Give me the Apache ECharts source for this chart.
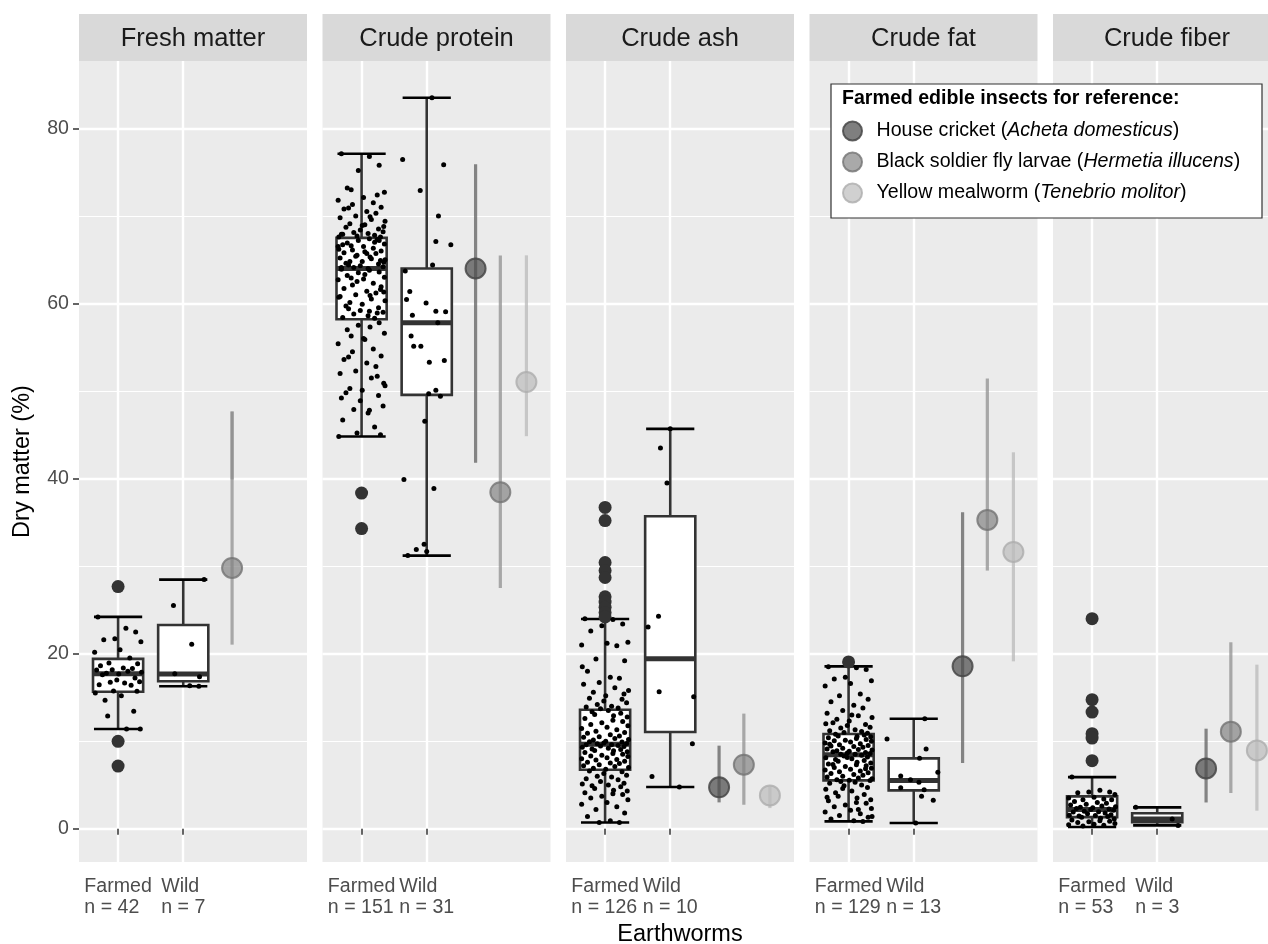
<!DOCTYPE html>
<html>
<head>
<meta charset="utf-8">
<script src="https://cdn.jsdelivr.net/npm/echarts@6/dist/echarts.min.js"></script>
<style>
html,body{margin:0;padding:0;background:#ffffff;}
#chart{width:1268px;height:944px;}
</style>
</head>
<body>
<div id="chart"></div>
<script>
// ---------------- DATA ----------------
const panels = ['Fresh matter', 'Crude protein', 'Crude ash', 'Crude fat', 'Crude fiber'];
const groupNames = ['Farmed', 'Wild'];
const nFarmed = [42, 151, 126, 129, 53];
const nWild = [7, 31, 10, 13, 3];
const yTicks = [0, 20, 40, 60, 80];

// box stats: [lower whisker, Q1, median, Q3, upper whisker]
const boxFarmed = [
  [11.4, 15.65, 17.7, 19.4, 24.2],
  [44.8, 58.2, 64.0, 67.5, 77.1],
  [0.72, 6.74, 9.65, 13.6, 23.96],
  [0.84, 5.52, 8.46, 10.82, 18.55],
  [0.19, 1.33, 2.2, 3.7, 5.9]
];
const boxWild = [
  [16.27, 16.84, 17.68, 23.28, 28.46],
  [31.2, 49.56, 57.8, 64.0, 83.5],
  [4.76, 11.05, 19.43, 35.7, 45.68],
  [0.65, 4.38, 5.52, 8.04, 12.57],
  [0.38, 0.74, 1.1, 1.77, 2.44]
];
const outliersFarmed = [
  [27.66, 9.98, 7.16],
  [38.34, 34.29],
  [36.7, 35.2, 30.4, 29.5, 28.7, 26.5, 25.9, 25.3, 24.7, 24.2],
  [19.05],
  [24.0, 14.74, 13.33, 10.86, 10.36, 7.77]
];

// individual farmed observations (dry matter %)
const freshFarmed = [24.19, 22.9, 22.48, 21.71, 21.6, 21.37, 20.46, 20.15, 19.5, 18.93, 18.86, 18.63, 18.36, 18.29, 18.17, 18.13, 17.98, 17.87, 17.75, 17.68, 17.6, 17.22, 16.99, 16.8, 16.72, 16.65, 16.46, 16.38, 15.73, 15.7, 15.5, 15.2, 14.67, 13.41, 12.88, 11.39, 11.39];
const proteinFarmed = [
  77.1, 76.8, 75.8, 75.2, 73.2, 72.7, 72.1, 71.8, 71.5, 71.3, 71.0, 70.8, 70.5, 70.3, 70.0, 69.8, 69.6, 69.4, 69.1, 68.9, 68.7, 68.5, 68.4, 68.2, 68.1, 68.0, 67.9, 67.8, 67.7, 67.6, 67.6, 69.0, 70.9, 72.4, 73.0, 69.9, 68.8, 67.9,
  67.4, 67.2, 67.2, 66.9, 66.8, 66.5, 66.5, 66.3, 66.1, 66.0, 65.8, 65.7, 65.7, 65.4, 65.2, 65.1, 65.0, 64.8, 64.8, 64.6, 64.5, 64.3, 64.2, 64.1, 64.0, 66.7, 67.0, 65.5, 64.9, 66.2, 65.9, 64.4, 67.3, 66.6, 65.3, 64.7, 64.1,
  63.8, 63.6, 63.5, 63.2, 63.0, 62.8, 62.7, 62.3, 62.1, 61.9, 61.7, 61.4, 61.2, 61.0, 60.8, 60.5, 60.3, 60.1, 59.9, 59.7, 59.5, 59.2, 59.0, 58.8, 58.6, 58.4, 58.3, 62.5, 61.6, 60.7, 63.3, 59.4, 58.9, 62.9, 60.9, 61.3, 63.9, 59.1,
  57.8, 57.5, 57.0, 56.6, 56.0, 55.4, 54.8, 54.5, 54.0, 53.6, 53.2, 52.8, 52.3, 52.0, 51.5, 50.6, 50.3, 50.1, 49.8, 49.5, 48.9, 48.3, 47.9, 47.5, 46.7, 45.9, 45.2, 45.0, 44.8, 55.9, 53.9, 51.7, 56.3, 57.3, 50.9, 49.2, 47.8
];
const ashFarmed = [
  24.0, 23.9, 23.4, 23.2, 22.6, 21.3, 21.2, 21.0, 20.9, 19.4, 19.2, 18.0, 17.3, 17.2, 16.7, 16.5, 16.1, 15.8, 15.6, 15.2, 14.9, 14.8, 14.6, 14.4, 14.2, 14.0, 13.9, 13.8, 13.7, 15.4, 18.5,
  13.5, 13.35, 13.2, 13.05, 12.9, 12.75, 12.6, 12.4, 12.25, 12.1, 11.9, 11.75, 11.6, 11.45, 11.3, 11.15, 11.0, 10.9, 10.75, 10.6, 10.5, 10.45, 10.3, 10.2, 10.15, 10.0, 9.95, 9.9, 9.8, 9.75, 9.7,
  9.6, 9.6, 9.5, 9.45, 9.4, 9.3, 9.2, 9.1, 9.05, 8.95, 8.9, 8.8, 8.7, 8.6, 8.5, 8.4, 8.3, 8.25, 8.1, 8.0, 7.9, 7.85, 7.7, 7.6, 7.5, 7.45, 7.3, 7.2, 7.1, 7.0, 6.9, 6.8,
  6.6, 6.5, 6.3, 6.1, 6.0, 5.9, 5.7, 5.6, 5.4, 5.2, 5.1, 5.0, 4.9, 4.8, 4.6, 4.4, 4.3, 4.1, 4.0, 3.9, 3.7, 3.5, 3.3, 3.0, 2.8, 2.5, 2.2, 1.8, 1.4, 0.9, 0.7, 0.7
];
const fatFarmed = [
  18.5, 18.4, 18.2, 17.3, 17.1, 16.9, 16.6, 16.3, 15.4, 15.2, 14.8, 14.5, 14.1, 13.8, 13.5, 13.2, 12.9, 12.7, 12.5, 12.3, 12.1, 11.9, 11.8, 11.6, 11.5, 11.3, 11.2, 11.1, 11.0, 10.9, 12.0, 13.0,
  10.8, 10.7, 10.6, 10.55, 10.5, 10.4, 10.3, 10.2, 10.1, 10.05, 10.0, 9.9, 9.8, 9.7, 9.6, 9.5, 9.45, 9.4, 9.3, 9.2, 9.1, 9.05, 9.0, 8.9, 8.85, 8.8, 8.7, 8.65, 8.6, 8.5, 8.5, 9.65,
  8.4, 8.3, 8.2, 8.1, 8.0, 7.9, 7.8, 7.7, 7.6, 7.5, 7.4, 7.3, 7.2, 7.1, 7.0, 6.9, 6.8, 6.7, 6.6, 6.5, 6.4, 6.3, 6.2, 6.1, 6.0, 5.9, 5.8, 5.7, 5.6, 5.55, 7.35, 6.85, 8.15,
  5.5, 5.4, 5.3, 5.2, 5.0, 4.9, 4.7, 4.5, 4.3, 4.1, 3.9, 3.7, 3.5, 3.3, 3.2, 3.0, 2.9, 2.7, 2.5, 2.3, 2.1, 1.9, 1.7, 1.5, 1.3, 1.1, 0.9, 0.84, 4.6, 3.6, 2.2, 1.4
];
const fiberFarmed = [5.9, 4.4, 4.2, 4.2, 4.1, 3.9, 3.6, 3.5, 3.4, 3.3, 3.3, 3.1, 3.0, 2.9, 2.8, 2.7, 2.6, 2.5, 2.45, 2.4, 2.3, 2.25, 2.2, 2.1, 2.0, 1.95, 1.9, 1.8, 1.7, 1.6, 1.55, 1.5, 1.45, 1.4, 1.3, 1.2, 1.1, 1.0, 0.9, 0.85, 0.8, 0.7, 0.6, 0.5, 0.45, 0.4, 0.3];

// wild observations: [horizontal jitter (x units), value]
const freshWild = [[-0.15, 25.49], [0.13, 21.07], [-0.13, 17.71], [0.25, 17.37], [0.10, 16.34], [0.24, 16.27], [0.32, 28.46]];
const proteinWild = [[0.08, 83.5], [-0.37, 76.46], [0.26, 75.85], [-0.10, 72.9], [0.18, 70.0], [0.14, 67.09], [0.37, 66.7], [0.09, 64.4], [-0.33, 63.7], [-0.26, 61.37], [-0.31, 60.46], [-0.01, 60.07], [-0.22, 58.67], [0.14, 59.1], [0.29, 59.05], [0.17, 57.79], [-0.24, 56.3], [-0.20, 55.12], [-0.09, 55.12], [0.04, 53.3], [0.27, 53.49], [0.03, 49.7], [0.14, 50.1], [0.21, 49.4], [-0.03, 46.55], [-0.35, 39.9], [0.11, 38.86], [-0.04, 32.5], [-0.16, 31.9], [0.0, 31.66], [-0.29, 31.2]];
const ashWild = [[0.0, 45.68], [-0.15, 43.5], [-0.05, 39.5], [-0.18, 24.27], [-0.34, 23.05], [-0.17, 15.66], [0.36, 15.09], [0.34, 9.72], [-0.28, 5.98], [0.14, 4.76]];
const fatWild = [[0.17, 12.57], [-0.41, 10.25], [0.19, 9.1], [0.09, 8.04], [0.37, 6.44], [-0.20, 6.02], [0.08, 5.3], [0.16, 4.46], [-0.20, 4.69], [0.12, 3.7], [0.30, 3.24], [0.03, 0.65], [-0.05, 5.6]];
const fiberWild = [[-0.33, 2.44], [0.23, 1.1], [0.32, 0.38]];

// horizontal jitter offsets (x units) used for the farmed observations
const jitter = [-0.31, 0.12, 0.27, -0.05, -0.22, 0.35, 0.03, -0.36, 0.18, -0.14, 0.30, -0.27, 0.08, 0.22, -0.09, -0.33, 0.15, 0.36, -0.18, 0.01, -0.24, 0.26, -0.02, 0.33, -0.12, 0.10, -0.29, 0.20, -0.07, 0.29, -0.35, 0.05, -0.20, 0.24, -0.16, 0.13, 0.34];

// reference insects
const insectCommon = ['House cricket', 'Black soldier fly larvae', 'Yellow mealworm'];
const insectLatin = ['Acheta domesticus', 'Hermetia illucens', 'Tenebrio molitor'];
const cricketX = [2.75, 2.75, 2.75, 2.75, 2.75];
const bsfX = [2.75, 3.13, 3.13, 3.13, 3.13];
const mealX = [3.53, 3.53, 3.53, 3.53, 3.53];
const cricketValue = [null, 64.0, 4.73, 18.55, 6.89];
const bsfValue = [29.79, 38.44, 7.32, 35.28, 11.09];
const mealValue = [null, 51.03, 3.81, 31.62, 8.95];
const cricketRanges = [[], [[41.8, 75.9]], [[3.01, 9.49]], [[7.5, 36.15]], [[3.0, 11.43]]];
const bsfRanges = [[[21.03, 47.66], [39.9, 47.66]], [[27.5, 65.49]], [[2.74, 13.15]], [[29.49, 51.43]], [[4.08, 21.3]]];
const mealRanges = [[], [[44.84, 65.5]], [[2.36, 4.84]], [[19.12, 43.0]], [[2.06, 18.74]]];

// ---------------- STYLE / LAYOUT ----------------
const FONT = '"Liberation Sans", Arial, Helvetica, sans-serif';
const PANEL_W = 228, PANEL_TOP = 61, PANEL_H = 801, PANEL_STEP = 243.5, PANEL_LEFT0 = 79;
const insectNames = insectCommon.map((c, k) => c + ' (' + insectLatin[k] + ')');
const insectPointFill = ['rgba(78,78,78,0.72)', 'rgba(128,128,128,0.68)', 'rgba(188,188,188,0.7)'];
const insectPointBorder = ['rgba(70,70,70,0.85)', 'rgba(115,115,115,0.8)', 'rgba(172,172,172,0.8)'];
const insectLine = ['rgba(90,90,90,0.72)', 'rgba(140,140,140,0.72)', 'rgba(185,185,185,0.75)'];

const farmedPts = [freshFarmed, proteinFarmed, ashFarmed, fatFarmed, fiberFarmed];
const wildPts = [freshWild, proteinWild, ashWild, fatWild, fiberWild];
const insX = [cricketX, bsfX, mealX];
const insVal = [cricketValue, bsfValue, mealValue];
const insRanges = [cricketRanges, bsfRanges, mealRanges];

function renderBox(params, api) {
  const x = api.value(0);
  const lo = api.coord([x, api.value(1)]);
  const q1 = api.coord([x, api.value(2)]);
  const md = api.coord([x, api.value(3)]);
  const q3 = api.coord([x, api.value(4)]);
  const hi = api.coord([x, api.value(5)]);
  const bw = api.size([0.77, 0])[0];
  const cw = api.size([0.74, 0])[0];
  const cx = md[0];
  const st = '#333333';
  return {
    type: 'group',
    children: [
      { type: 'line', shape: { x1: cx, y1: q3[1], x2: cx, y2: hi[1] }, style: { stroke: st, lineWidth: 2.6 } },
      { type: 'line', shape: { x1: cx, y1: q1[1], x2: cx, y2: lo[1] }, style: { stroke: st, lineWidth: 2.6 } },
      { type: 'line', shape: { x1: cx - cw / 2, y1: hi[1], x2: cx + cw / 2, y2: hi[1] }, style: { stroke: '#000', lineWidth: 2.6 } },
      { type: 'line', shape: { x1: cx - cw / 2, y1: lo[1], x2: cx + cw / 2, y2: lo[1] }, style: { stroke: '#000', lineWidth: 2.6 } },
      { type: 'rect', shape: { x: cx - bw / 2, y: q3[1], width: bw, height: q1[1] - q3[1] }, style: { fill: '#ffffff', stroke: st, lineWidth: 2.6 } },
      { type: 'line', shape: { x1: cx - bw / 2, y1: md[1], x2: cx + bw / 2, y2: md[1] }, style: { stroke: st, lineWidth: 5 } }
    ]
  };
}

function renderRange(params, api) {
  const x = api.value(0);
  const a = api.coord([x, api.value(1)]);
  const b = api.coord([x, api.value(2)]);
  const k = api.value(3);
  return { type: 'line', shape: { x1: a[0], y1: a[1], x2: b[0], y2: b[1] }, style: { stroke: insectLine[k], lineWidth: 3.2 } };
}

const grids = [], xAxes = [], yAxes = [], series = [], graphics = [];

panels.forEach((title, i) => {
  const left = PANEL_LEFT0 + i * PANEL_STEP;
  grids.push({ left: left, top: PANEL_TOP, width: PANEL_W, height: PANEL_H, show: true, backgroundColor: '#ebebeb', borderWidth: 0, outerBoundsMode: 'none', containLabel: false });
  xAxes.push({
    gridIndex: i, type: 'value', min: 0.4, max: 3.9,
    axisLine: { show: false },
    axisTick: { show: true, length: 6, customValues: [1, 2], lineStyle: { color: '#333333', width: 1.5 } },
    axisLabel: {
      customValues: [1, 2], margin: 14,
      formatter: function (v) {
        return v < 1.5 ? '{a|' + groupNames[0] + '}\n{a|n = ' + nFarmed[i] + '}' : '{a|' + groupNames[1] + '}\n{a|n = ' + nWild[i] + '}';
      },
      rich: { a: { fontSize: 19.6, lineHeight: 21, color: '#4d4d4d', fontFamily: FONT, align: 'left' } }
    },
    splitLine: { show: true, lineStyle: { color: '#ffffff', width: 2.4 } },
    name: i === 2 ? 'Earthworms' : '', nameLocation: 'middle', nameGap: 61,
    nameTextStyle: { fontSize: 23.5, color: '#000000', fontFamily: FONT }
  });
  yAxes.push({
    gridIndex: i, type: 'value', min: -3.8, max: 87.7,
    axisLine: { show: false },
    axisTick: { show: i === 0, length: 6, customValues: yTicks, lineStyle: { color: '#333333', width: 1.5 } },
    axisLabel: { show: i === 0, customValues: yTicks, margin: 10, fontSize: 19.6, color: '#4d4d4d', fontFamily: FONT },
    splitLine: { show: true, lineStyle: { color: '#ffffff', width: 2.4 } },
    minorTick: { show: false, splitNumber: 2 },
    minorSplitLine: { show: true, lineStyle: { color: '#ffffff', width: 1.2 } },
    name: i === 0 ? 'Dry matter (%)' : '', nameLocation: 'middle', nameRotate: 90, nameGap: 44,
    nameTextStyle: { fontSize: 23.5, color: '#000000', fontFamily: FONT }
  });

  // boxes
  series.push({
    type: 'custom', xAxisIndex: i, yAxisIndex: i, z: 2, renderItem: renderBox,
    encode: { x: 0, y: [1, 2, 3, 4, 5] },
    data: [[1].concat(boxFarmed[i]), [2].concat(boxWild[i])]
  });
  // outliers
  series.push({
    type: 'scatter', xAxisIndex: i, yAxisIndex: i, z: 3, symbolSize: 13,
    itemStyle: { color: '#333333', opacity: 1 },
    data: outliersFarmed[i].map(v => [1, v])
  });
  // jittered observations
  series.push({
    type: 'scatter', xAxisIndex: i, yAxisIndex: i, z: 4, symbolSize: 5,
    itemStyle: { color: '#000000', opacity: 1 },
    data: farmedPts[i].map((v, k) => [1 + jitter[k % jitter.length], v])
  });
  series.push({
    type: 'scatter', xAxisIndex: i, yAxisIndex: i, z: 4, symbolSize: 5,
    itemStyle: { color: '#000000', opacity: 1 },
    data: wildPts[i].map(p => [2 + p[0], p[1]])
  });
  // insect ranges
  const rangeData = [];
  for (let k = 0; k < 3; k++) {
    insRanges[k][i].forEach(r => rangeData.push([insX[k][i], r[0], r[1], k]));
  }
  series.push({
    type: 'custom', xAxisIndex: i, yAxisIndex: i, z: 5, renderItem: renderRange,
    encode: { x: 0, y: [1, 2] }, data: rangeData
  });
  // insect points
  for (let k = 0; k < 3; k++) {
    const v = insVal[k][i];
    series.push({
      type: 'scatter', name: insectNames[k], xAxisIndex: i, yAxisIndex: i, z: 6, symbolSize: 20,
      itemStyle: { color: insectPointFill[k], borderColor: insectPointBorder[k], borderWidth: 2, opacity: 1 },
      data: v === null ? [] : [[insX[k][i], v]]
    });
  }

  // strip
  graphics.push({ type: 'rect', shape: { x: left, y: 14, width: PANEL_W, height: PANEL_TOP - 14 }, style: { fill: '#d9d9d9' }, z: 1 });
  graphics.push({ type: 'text', x: left + PANEL_W / 2, y: 39, z: 2,
    style: { text: title, fontSize: 25.5, fill: '#1a1a1a', fontFamily: FONT, align: 'center', verticalAlign: 'middle' } });
});

// legend box + title
graphics.push({ type: 'rect', shape: { x: 831, y: 84, width: 431, height: 134 }, style: { fill: '#ffffff', stroke: '#333333', lineWidth: 1.2 }, z: 8 });
graphics.push({ type: 'text', x: 842, y: 99, z: 11,
  style: { text: 'Farmed edible insects for reference:', fontSize: 19.6, fontWeight: 'bold', fill: '#000000', fontFamily: FONT, align: 'left', verticalAlign: 'middle' } });

const option = {
  animation: false,
  backgroundColor: '#ffffff',
  grid: grids,
  xAxis: xAxes,
  yAxis: yAxes,
  series: series,
  graphic: { elements: graphics },
  legend: {
    orient: 'vertical', left: 842, top: 120, padding: 0,
    itemWidth: 38, itemHeight: 19, itemGap: 9, selectedMode: false, z: 10,
    data: insectNames, icon: 'circle',
    formatter: function (name) {
      const k = insectNames.indexOf(name);
      return '{n|' + insectCommon[k] + ' (}{i|' + insectLatin[k] + '}{n|)}';
    },
    textStyle: {
      fontSize: 19.6, lineHeight: 22, color: '#000000', fontFamily: FONT,
      rich: {
        n: { fontSize: 19.6, color: '#000000', fontFamily: FONT },
        i: { fontSize: 19.6, color: '#000000', fontStyle: 'italic', fontFamily: FONT }
      }
    }
  }
};

const chart = echarts.init(document.getElementById('chart'), null, { renderer: 'canvas' });
chart.setOption(option);
</script>
</body>
</html>
